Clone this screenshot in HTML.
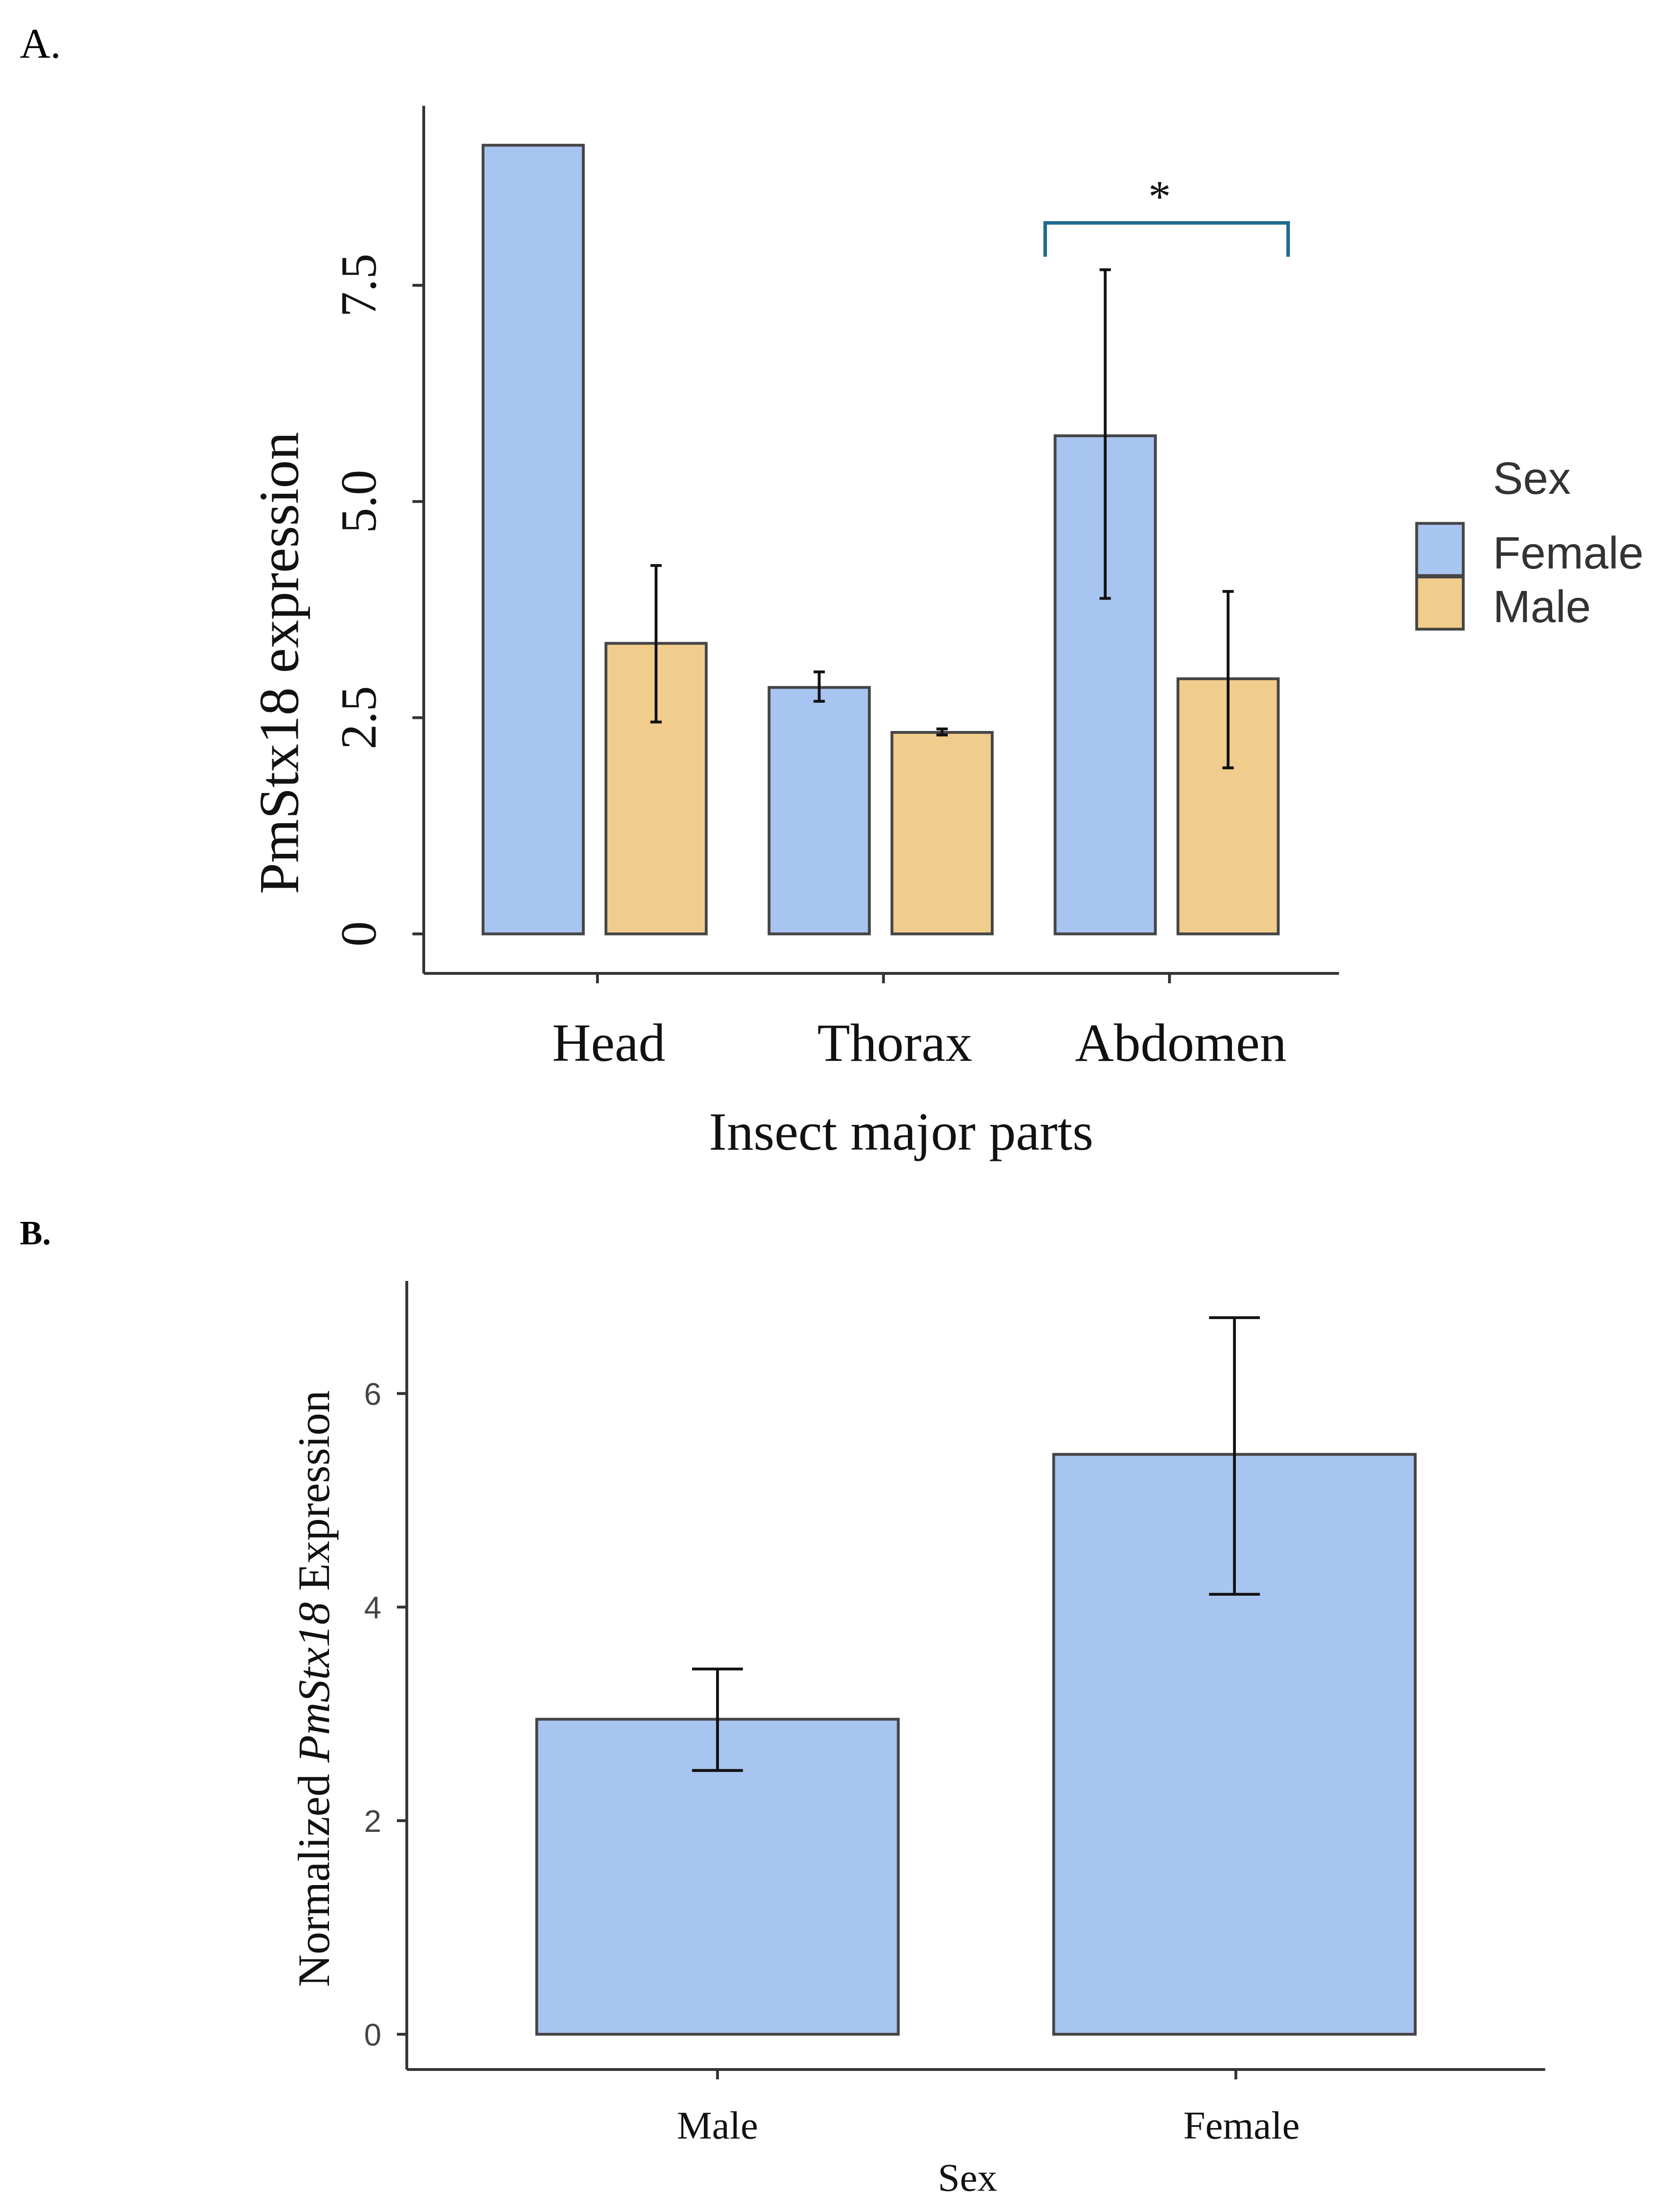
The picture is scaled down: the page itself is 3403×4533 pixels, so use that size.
<!DOCTYPE html>
<html><head><meta charset="utf-8">
<style>
html,body{margin:0;padding:0;background:#fff;}
svg{display:block;}
.serif{font-family:"Liberation Serif",serif;}
.sans{font-family:"Liberation Sans",sans-serif;}
</style></head>
<body>
<svg id="chart" width="3403" height="4533" viewBox="0 0 1176 1568" preserveAspectRatio="none" xmlns="http://www.w3.org/2000/svg">
<text x="14" y="41" class="serif" font-size="30">A.</text>
<text x="14" y="882" class="serif" font-size="24" font-weight="bold">B.</text>
<g id="gA"></g>
<g id="gB"></g>
</svg>
<script>
// Panel A data
const aCategories = ["Head","Thorax","Abdomen"];
const aFemale = [9.12, 2.85, 5.76];
const aFemaleHi = [null, 3.03, 7.68];
const aFemaleLo = [null, 2.69, 3.88];
const aMale = [3.36, 2.33, 2.95];
const aMaleHi = [4.26, 2.37, 3.96];
const aMaleLo = [2.45, 2.30, 1.92];
const aTicks = [0, 2.5, 5, 7.5];
const aTickLabels = ["0","2.5","5.0","7.5"];
// Panel B data
const bCategories = ["Male","Female"];
const bValues = [2.95, 5.43];
const bHi = [3.42, 6.71];
const bLo = [2.47, 4.12];
const bTicks = [0, 2, 4, 6];
const bTickLabels = ["0","2","4","6"];

const NS = "http://www.w3.org/2000/svg";
function mk(parent, tag, attrs, text){
  const e = document.createElementNS(NS, tag);
  for (const k in attrs) e.setAttribute(k, attrs[k]);
  if (text !== undefined) e.textContent = text;
  parent.appendChild(e);
  return e;
}
const BLUE="#a8c4f0", ORANGE="#f0cd8c", EDGE="#454545";

// ---------- Panel A ----------
const gA = document.getElementById("gA");
const yA = v => 662 - v * 61.3;
const groupCenterA = i => 423 + i * 202.5;
const barWA = 71;
let e;
e = mk(gA,"line",{x1:300,y1:75,x2:300,y2:690,stroke:"#333","stroke-width":2});
 
e = mk(gA,"line",{x1:300,y1:690,x2:948,y2:690,stroke:"#333","stroke-width":2});
 
aTicks.forEach((t,i)=>{
  const y = yA(t);
  e = mk(gA,"line",{x1:292,y1:y,x2:300,y2:y,stroke:"#333","stroke-width":2});
   
  e = mk(gA,"text",{x:0,y:0,transform:`translate(266,${y}) rotate(-90)`,"text-anchor":"middle","class":"serif","font-size":36,fill:"#111"},aTickLabels[i]);
   
});
e = mk(gA,"text",{x:0,y:0,transform:"translate(211,470) rotate(-90)","text-anchor":"middle","class":"serif","font-size":40,fill:"#111"},"PmStx18 expression");
 
function errBar(g,x,hi,lo,y,cap,w,name){
  const p = mk(g,"path",{d:`M${x},${y(hi)}V${y(lo)}M${x-cap},${y(hi)}H${x+cap}M${x-cap},${y(lo)}H${x+cap}`,stroke:"#111","stroke-width":w,fill:"none"});
   
}
aCategories.forEach((c,i)=>{
  const cx = groupCenterA(i);
  const xf = cx - 81, xm = cx + 6;
  e = mk(gA,"rect",{x:xf,y:yA(aFemale[i]),width:barWA,height:yA(0)-yA(aFemale[i]),fill:BLUE,stroke:EDGE,"stroke-width":2});
   
  e = mk(gA,"rect",{x:xm,y:yA(aMale[i]),width:barWA,height:yA(0)-yA(aMale[i]),fill:ORANGE,stroke:EDGE,"stroke-width":2});
   
  if (aFemaleHi[i]!==null) errBar(gA,xf+barWA/2,aFemaleHi[i],aFemaleLo[i],yA,4,2,'error-bar-'+c.toLowerCase()+'-female');
  errBar(gA,xm+barWA/2,aMaleHi[i],aMaleLo[i],yA,4,2,'error-bar-'+c.toLowerCase()+'-male');
  e = mk(gA,"line",{x1:cx,y1:690,x2:cx,y2:697,stroke:"#333","stroke-width":2});
   
  e = mk(gA,"text",{x:cx+8,y:752,"text-anchor":"middle","class":"serif","font-size":38,fill:"#111"},c);
   
});
e = mk(gA,"text",{x:638,y:815,"text-anchor":"middle","class":"serif","font-size":38,fill:"#111"},"Insect major parts");
 
e = mk(gA,"path",{d:"M740,182V158H912V182",stroke:"#1f6a8e","stroke-width":2.5,fill:"none"});
 
e = mk(gA,"text",{x:821,y:150,"text-anchor":"middle","class":"serif","font-size":32,fill:"#111"},"*");
 
// legend
e = mk(gA,"text",{x:1057,y:350,"class":"sans","font-size":32,fill:"#333"},"Sex");
 
e = mk(gA,"rect",{x:1003,y:371,width:33,height:37,fill:BLUE,stroke:EDGE,"stroke-width":2});
 
e = mk(gA,"rect",{x:1003,y:409,width:33,height:37,fill:ORANGE,stroke:EDGE,"stroke-width":2});
 
e = mk(gA,"text",{x:1057,y:403,"class":"sans","font-size":32,fill:"#333"},"Female");
 
e = mk(gA,"text",{x:1057,y:441,"class":"sans","font-size":32,fill:"#333"},"Male");
 

// ---------- Panel B ----------
const gB = document.getElementById("gB");
const yB = v => 1442 - v * 75.7;
const centerB = i => 508 + i * 367;
const barWB = 256;
e = mk(gB,"line",{x1:288,y1:908,x2:288,y2:1467,stroke:"#333","stroke-width":2});
 
e = mk(gB,"line",{x1:288,y1:1467,x2:1094,y2:1467,stroke:"#333","stroke-width":2});
 
bTicks.forEach((t,i)=>{
  const y = yB(t);
  e = mk(gB,"line",{x1:281,y1:y,x2:288,y2:y,stroke:"#333","stroke-width":2});
   
  e = mk(gB,"text",{x:270,y:y+8,"text-anchor":"end","class":"sans","font-size":22,fill:"#444"},bTickLabels[i]);
   
});
const yt = mk(gB,"text",{x:0,y:0,transform:"translate(233,1197) rotate(-90)","text-anchor":"middle","class":"serif","font-size":32,fill:"#111"});
 
mk(yt,"tspan",{},"Normalized ");
mk(yt,"tspan",{"font-style":"italic"},"PmStx18");
mk(yt,"tspan",{}," Expression");
bCategories.forEach((c,i)=>{
  const cx = centerB(i);
  const x0 = i===0 ? 380 : 746;
  e = mk(gB,"rect",{x:x0,y:yB(bValues[i]),width:barWB,height:yB(0)-yB(bValues[i]),fill:BLUE,stroke:EDGE,"stroke-width":2});
   
  errBar(gB,x0+barWB/2,bHi[i],bLo[i],yB,18,2,'error-bar-b-'+c.toLowerCase());
  e = mk(gB,"line",{x1:cx,y1:1467,x2:cx,y2:1474,stroke:"#333","stroke-width":2});
   
  e = mk(gB,"text",{x:cx+(i?4:0),y:1516,"text-anchor":"middle","class":"serif","font-size":28,fill:"#111"},c);
   
});
e = mk(gB,"text",{x:685,y:1553,"text-anchor":"middle","class":"serif","font-size":28,fill:"#111"},"Sex");
 
</script>
</body></html>
